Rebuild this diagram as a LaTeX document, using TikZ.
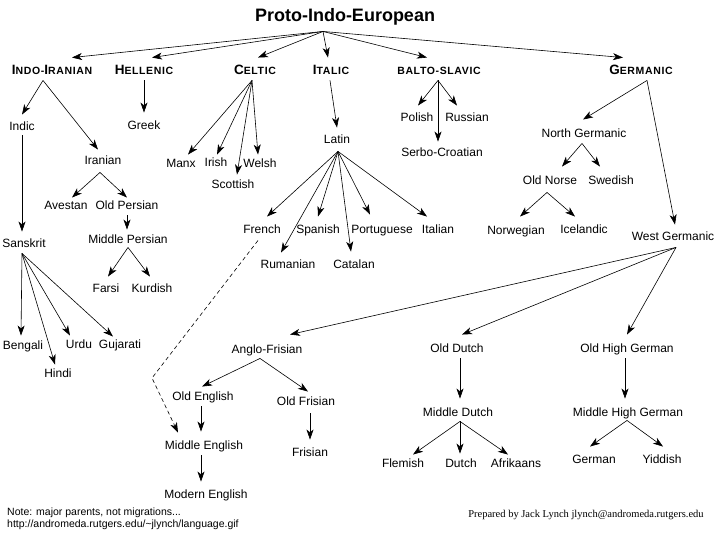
\documentclass[tikz,border=0pt]{standalone}
\usepackage{fontspec}
\setmainfont{Liberation Sans}
\newfontfamily\hdfont[LetterSpace=6]{Liberation Sans}
\newfontfamily\serifft{Liberation Serif}
\usetikzlibrary{arrows.meta,calc}
\newcommand\HdCap[1]{{\fontsize{13.5}{15}\selectfont #1}}
\begin{document}
\begin{tikzpicture}[x=1pt,y=-1pt,
  lang/.style={font=\fontsize{12}{14}\selectfont, text height=9pt, text depth=2.5pt, inner sep=1.5pt},
  hd/.style={font=\hdfont\bfseries\fontsize{10.5}{12}\selectfont, text height=9.5pt, text depth=0pt, inner sep=1.5pt},
  ttl/.style={font=\bfseries\fontsize{18}{20}\selectfont, text height=13pt, text depth=3.5pt, inner sep=1pt},
  arr/.style={line width=0.6pt, -{Stealth[length=10pt,width=7pt,inset=2.8pt]}},
  migr/.style={arr, dash pattern=on 4pt off 3pt}]
\fill[white] (0,0) rectangle (720,540);
\useasboundingbox (0,0) rectangle (720,540);

% title and headings
\node[ttl] (title) at (345,17) {Proto-Indo-European};
\node[hd] (ii) at (52,70) {\HdCap{I}NDO-\HdCap{I}RANIAN};
\node[hd] (hel) at (144,70) {\HdCap{H}ELLENIC};
\node[hd] (cel) at (255,70) {\HdCap{C}ELTIC};
\node[hd] (ita) at (331,70) {\HdCap{I}TALIC};
\node[hd] (bs) at (439,70) {BALTO-SLAVIC};
\node[hd] (ger) at (641,70) {\HdCap{G}ERMANIC};

% languages
\node[lang] (indic) at (22,127) {Indic};
\node[lang] (greek) at (144,126) {Greek};
\node[lang] (iranian) at (103,161) {Iranian};
\node[lang] (manx) at (181,164) {Manx};
\node[lang] (irish) at (216,163) {Irish};
\node[lang] (welsh) at (260,164) {Welsh};
\node[lang] (scottish) at (233,185) {Scottish};
\node[lang] (latin) at (337,140) {Latin};
\node[lang] (french) at (262,230) {French};
\node[lang] (spanish) at (318,230) {Spanish};
\node[lang] (portuguese) at (382,230) {Portuguese};
\node[lang] (italian) at (438,230) {Italian};
\node[lang] (rumanian) at (288,265) {Rumanian};
\node[lang] (catalan) at (354,265) {Catalan};
\node[lang] (polish) at (417,118) {Polish};
\node[lang] (russian) at (467,118) {Russian};
\node[lang] (serbo) at (442,153) {Serbo-Croatian};
\node[lang] (northg) at (584,134) {North Germanic};
\node[lang] (oldnorse) at (550,181) {Old Norse};
\node[lang] (swedish) at (611,181) {Swedish};
\node[lang] (norwegian) at (516,231) {Norwegian};
\node[lang] (icelandic) at (584,230) {Icelandic};
\node[lang] (westg) at (673,237) {West Germanic};
\node[lang] (avestan) at (66,206) {Avestan};
\node[lang] (oldpersian) at (127,206) {Old Persian};
\node[lang] (midpersian) at (128,240) {Middle Persian};
\node[lang] (farsi) at (106,289) {Farsi};
\node[lang] (kurdish) at (152,289) {Kurdish};
\node[lang] (sanskrit) at (24,244) {Sanskrit};
\node[lang] (bengali) at (23,346) {Bengali};
\node[lang] (urdu) at (79,345) {Urdu};
\node[lang] (gujarati) at (120,345) {Gujarati};
\node[lang] (hindi) at (58,374) {Hindi};
\node[lang] (anglofrisian) at (267,350) {Anglo-Frisian};
\node[lang] (olddutch) at (457,349) {Old Dutch};
\node[lang] (ohg) at (627,349) {Old High German};
\node[lang] (middutch) at (458,413) {Middle Dutch};
\node[lang] (mhg) at (628,413) {Middle High German};
\node[lang] (flemish) at (403,464) {Flemish};
\node[lang] (dutch) at (461,464) {Dutch};
\node[lang] (afrikaans) at (516,464) {Afrikaans};
\node[lang] (german) at (594,460) {German};
\node[lang] (yiddish) at (662,460) {Yiddish};
\node[lang] (oldenglish) at (203,397) {Old English};
\node[lang] (oldfrisian) at (306,402) {Old Frisian};
\node[lang] (midenglish) at (204,446) {Middle English};
\node[lang] (frisian) at (310,453) {Frisian};
\node[lang] (modenglish) at (206,495) {Modern English};

% footer
\node[font=\fontsize{10.5}{12}\selectfont, align=left, anchor=west, inner sep=0pt] (note) at (7,519)
  {Note: major parents, not migrations...\\http://andromeda.rutgers.edu/\textasciitilde jlynch/language.gif};
\node[font=\serifft\fontsize{10.5}{12}\selectfont, inner sep=0pt] (credit) at (586,515)
  {Prepared by Jack Lynch jlynch@andromeda.rutgers.edu};

% branching points
\coordinate (pie) at ($(title.south)+(-22,5)$);
\coordinate (iiA) at ($(ii.south)+(-9,4)$);
\coordinate (helA) at ($(hel.south)+(0,4)$);
\coordinate (celA) at ($(cel.south)+(-3,4)$);
\coordinate (itaA) at ($(ita.south)+(-1,4)$);
\coordinate (bsA) at ($(bs.south)+(-1,4)$);
\coordinate (gerA) at ($(ger.south)+(6,4)$);
\coordinate (indicS) at ($(indic.south)+(0,1)$);
\coordinate (iranA) at ($(iranian.south)+(-3,4)$);
\coordinate (latinA) at ($(latin.south)+(1,4)$);
\coordinate (ngA) at ($(northg.south)+(-2,2)$);
\coordinate (onA) at ($(oldnorse.south)+(-3,4)$);
\coordinate (opS) at ($(oldpersian.south)+(0,2)$);
\coordinate (mpA) at ($(midpersian.south)+(0,0)$);
\coordinate (skA) at ($(sanskrit.south)+(-2,2)$);
\coordinate (wgA) at ($(westg.south)+(3,3)$);
\coordinate (odS) at ($(olddutch.south)+(3,2)$);
\coordinate (ohgS) at ($(ohg.south)+(-2,2)$);
\coordinate (mdA) at ($(middutch.south)+(2,1)$);
\coordinate (mhgA) at ($(mhg.south)+(-1,0)$);
\coordinate (afA) at ($(anglofrisian.south)+(-7,1)$);
\coordinate (oeS) at ($(oldenglish.south)+(-2,2)$);
\coordinate (ofS) at ($(oldfrisian.south)+(4,4)$);
\coordinate (meS) at ($(midenglish.south)+(-3,2)$);
\coordinate (frS) at ($(french.south)+(-4,3)$);
\coordinate (bend) at (152,378);

% Proto-Indo-European
\draw[arr] (pie) -- ($(ii.north)+(20,-6)$);
\draw[arr] (pie) -- ($(hel.north)+(8,-6)$);
\draw[arr] (pie) -- ($(cel.north)+(3,-6)$);
\draw[arr] (pie) -- ($(ita.north)+(-3,-6)$);
\draw[arr] (pie) -- ($(bs.north)+(-12,-6)$);
\draw[arr] (pie) -- ($(ger.north)+(-18,-6)$);

% Indo-Iranian
\draw[arr] (iiA) -- ($(indic.north)+(0,-5)$);
\draw[arr] (iiA) -- ($(iranian.north)+(-5,-4)$);
\draw[arr] (indicS) -- ($(sanskrit.north)+(-2,-5)$);
\draw[arr] (iranA) -- ($(avestan.north)+(6,-1)$);
\draw[arr] (iranA) -- ($(oldpersian.north)+(0,-1)$);
\draw[arr] (opS) -- ($(midpersian.north)+(-1,-3)$);
\draw[arr] (mpA) -- ($(farsi.north)+(2,-5)$);
\draw[arr] (mpA) -- ($(kurdish.north)+(-2,-5)$);
\draw[arr] (skA) -- ($(bengali.north)+(-2,-3)$);
\draw[arr] (skA) -- ($(hindi.north)+(-3,-2)$);
\draw[arr] (skA) -- ($(urdu.north)+(-9,-2)$);
\draw[arr] (skA) -- ($(gujarati.north)+(-7,-1)$);

% Hellenic
\draw[arr] (helA) -- ($(greek.north)+(0,-6)$);

% Celtic
\draw[arr] (celA) -- ($(manx.north)+(7,-2)$);
\draw[arr] (celA) -- ($(irish.north)+(1,-1)$);
\draw[arr] (celA) -- ($(scottish.north)+(4,-3)$);
\draw[arr] (celA) -- ($(welsh.north)+(-2,-2)$);

% Italic
\draw[arr] (itaA) -- ($(latin.north)+(0,-5)$);
\draw[arr] (latinA) -- ($(french.north)+(5,-6)$);
\draw[arr] (latinA) -- ($(spanish.north)+(0,-6)$);
\draw[arr] (latinA) -- ($(portuguese.north)+(-12,-8)$);
\draw[arr] (latinA) -- ($(italian.north)+(-11,-6)$);
\draw[arr] (latinA) -- ($(rumanian.north)+(-7,-5)$);
\draw[arr] (latinA) -- ($(catalan.north)+(-3,-6)$);

% Balto-Slavic
\draw[arr] (bsA) -- ($(polish.north)+(1,-5)$);
\draw[arr] (bsA) -- ($(russian.north)+(-10,-5)$);
\draw[arr] (bsA) -- ($(serbo.north)+(-4,-4)$);

% Germanic
\draw[arr] (gerA) -- ($(northg.north)+(-1,-7)$);
\draw[arr] (gerA) -- ($(westg.north)+(2,-5)$);
\draw[arr] (ngA) -- ($(oldnorse.north)+(12,-7)$);
\draw[arr] (ngA) -- ($(swedish.north)+(-11,-7)$);
\draw[arr] (onA) -- ($(norwegian.north)+(4,-7)$);
\draw[arr] (onA) -- ($(icelandic.north)+(-9,-6)$);
\draw[arr] (wgA) -- ($(anglofrisian.north)+(23,-8)$);
\draw[arr] (wgA) -- ($(olddutch.north)+(5,-7)$);
\draw[arr] (wgA) -- ($(ohg.north)+(0,-7)$);
\draw[arr] (odS) -- ($(middutch.north)+(2,-7)$);
\draw[arr] (ohgS) -- ($(mhg.north)+(-3,-7)$);
\draw[arr] (mdA) -- ($(flemish.north)+(10,-2)$);
\draw[arr] (mdA) -- ($(dutch.north)+(-1,-3)$);
\draw[arr] (mdA) -- ($(afrikaans.north)+(-8,-2)$);
\draw[arr] (mhgA) -- ($(german.north)+(-4,-6)$);
\draw[arr] (mhgA) -- ($(yiddish.north)+(1,-6)$);
\draw[arr] (afA) -- ($(oldenglish.north)+(-1,-3)$);
\draw[arr] (afA) -- ($(oldfrisian.north)+(2,-3)$);
\draw[arr] (oeS) -- ($(midenglish.north)+(-3,-7)$);
\draw[arr] (ofS) -- ($(frisian.north)+(0,-6)$);
\draw[arr] (meS) -- ($(modenglish.north)+(-5,-6)$);

% French influence on Middle English
\draw[migr] (frS) -- (bend) -- ($(midenglish.north)+(-26,-6)$);
\end{tikzpicture}
\end{document}
